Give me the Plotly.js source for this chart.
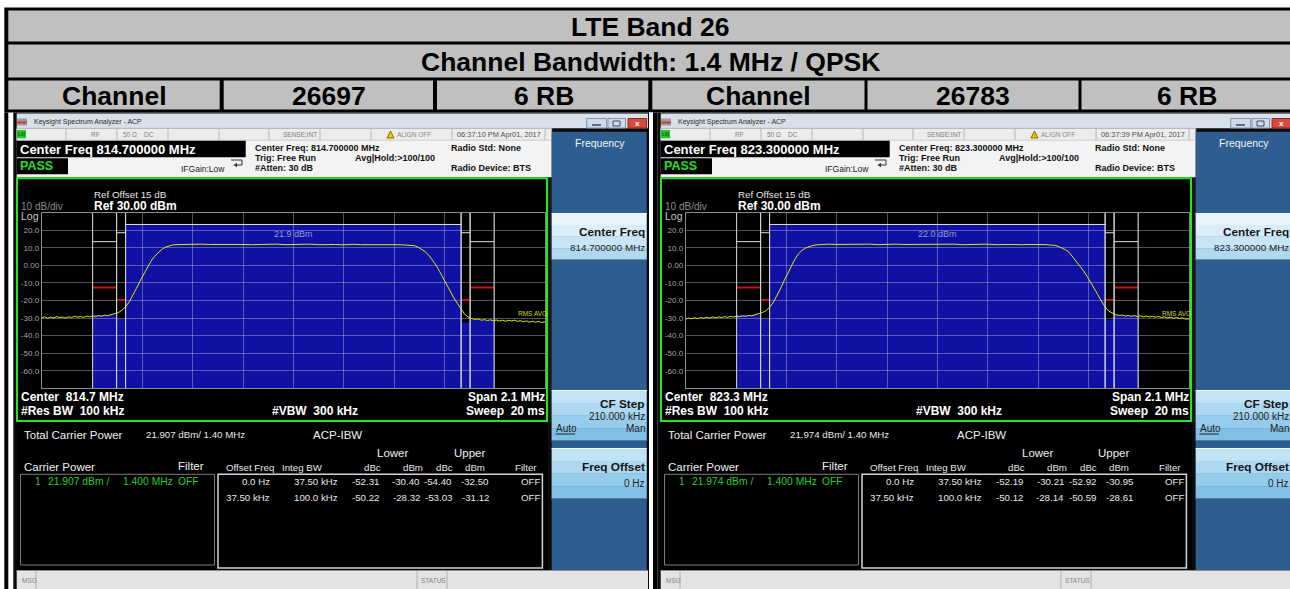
<!DOCTYPE html>
<html><head><meta charset="utf-8">
<script src="https://cdn.plot.ly/plotly-3.0.1.min.js"></script>
<style>html,body{margin:0;padding:0;background:#fff;overflow:hidden}#chart{width:1290px;height:589px}</style>
</head><body><div id="chart"></div>
<script>
// ---------------- data ----------------
const bandTitle = 'LTE Band 26';
const bwTitle = 'Channel Bandwidth: 1.4 MHz / QPSK';
const channels = ['26697', '26783'];
const rbLabels = ['6 RB', '6 RB'];
const centerMHz = [814.7, 823.3];
const spanMHz = 2.1;
const carrierBwMHz = 1.4;
const offsetFreqMHz = [0, 0.0375];
const integBwMHz = [0.0375, 0.1];
const offsetFreqText = ['0.0 Hz', '37.50 kHz'];
const integBwText = ['37.50 kHz', '100.0 kHz'];
const carrierPower = [21.907, 21.974];
const carrierLabel = ['21.9 dBm', '22.0 dBm'];
const timestamps = ['06:37:10 PM Apr01, 2017', '06:37:39 PM Apr01, 2017'];
const lowerDbc1 = [-52.31, -50.22], lowerDbm1 = [-30.40, -28.32];
const upperDbc1 = [-54.40, -53.03], upperDbm1 = [-32.50, -31.12];
const lowerDbc2 = [-52.19, -50.12], lowerDbm2 = [-30.21, -28.14];
const upperDbc2 = [-52.92, -50.59], upperDbm2 = [-30.95, -28.61];
const carrierBarTop = [23.3, 23.3];
const bwMarkerLevel = [18.6, 13.5];
const limitLevel = [-19.7, -12.6];
const yTicks = [20, 10, 0, -10, -20, -30, -40, -50, -60];
const yTickText = ['20.0', '10.0', '0.00', '-10.0', '-20.0', '-30.0', '-40.0', '-50.0', '-60.0'];
// trace: [offset from center MHz, level dBm]
const trace1 = [[-1.05,-29.9],[-1.0375,-29.3],[-1.025,-30.1],[-1.0125,-29.5],[-1.0,-29.9],[-0.9875,-29.2],[-0.975,-29.7],[-0.9625,-29.4],
 [-0.95,-30.0],[-0.9375,-29.3],[-0.925,-29.6],[-0.9125,-29.0],[-0.9,-29.5],[-0.8875,-29.1],[-0.875,-29.6],[-0.8625,-28.9],[-0.85,-29.3],
 [-0.8375,-28.8],[-0.825,-29.1],[-0.8125,-28.6],[-0.8,-28.9],[-0.7875,-28.4],[-0.775,-28.6],
 [-0.76,-28.0],[-0.745,-27.6],[-0.73,-26.9],[-0.715,-25.5],[-0.70,-23.6],[-0.685,-20.8],[-0.67,-17.3],[-0.655,-13.2],[-0.64,-9.0],[-0.625,-5.0],
 [-0.61,-1.2],[-0.595,2.2],[-0.58,5.0],[-0.565,7.3],[-0.55,9.0],[-0.535,10.3],[-0.52,11.1],[-0.505,11.6],[-0.49,11.8],
 [-0.455,12.0],[-0.42,11.8],[-0.385,12.1],[-0.35,11.9],[-0.315,12.0],[-0.28,11.8],[-0.245,12.1],[-0.21,11.9],[-0.175,11.8],[-0.14,12.0],
 [-0.105,11.9],[-0.07,12.1],[-0.035,11.8],[0,12.0],[0.035,11.9],[0.07,12.1],[0.105,11.8],[0.14,12.0],[0.175,11.9],[0.21,11.7],
 [0.245,12.0],[0.28,11.8],[0.315,11.9],[0.35,11.7],[0.385,11.9],[0.42,11.8],[0.455,11.7],[0.49,11.6],
 [0.505,11.2],[0.52,10.4],[0.535,9.3],[0.55,7.8],[0.565,5.8],[0.58,3.3],[0.595,0.2],[0.61,-3.4],[0.625,-7.3],[0.64,-11.3],
 [0.655,-15.2],[0.67,-18.6],[0.685,-21.8],[0.70,-25.0],[0.715,-27.8],[0.73,-29.5],[0.745,-30.4],[0.76,-30.8],
 [0.7725,-30.6],[0.785,-31.2],[0.7975,-30.9],[0.81,-31.4],[0.8225,-31.0],[0.835,-31.5],[0.8475,-31.1],[0.86,-31.7],[0.8725,-31.2],
 [0.885,-31.8],[0.8975,-31.3],[0.91,-31.6],[0.9225,-31.2],[0.935,-31.9],[0.9475,-31.5],[0.96,-32.1],[0.9725,-31.6],[0.985,-32.3],
 [0.9975,-31.8],[1.01,-32.4],[1.0225,-31.9],[1.035,-32.5],[1.05,-32.2]];
const trace2 = [[-1.05,-30.6],[-1.0375,-30.0],[-1.025,-30.4],[-1.0125,-29.8],[-1.0,-30.3],[-0.9875,-29.7],[-0.975,-30.1],[-0.9625,-29.6],
 [-0.95,-30.0],[-0.9375,-29.4],[-0.925,-29.8],[-0.9125,-29.3],[-0.9,-29.7],[-0.8875,-29.2],[-0.875,-29.6],[-0.8625,-29.0],[-0.85,-29.4],
 [-0.8375,-28.9],[-0.825,-29.2],[-0.8125,-28.7],[-0.8,-29.0],[-0.7875,-28.5],[-0.775,-28.7],
 [-0.76,-28.1],[-0.745,-27.7],[-0.73,-26.9],[-0.715,-25.8],[-0.70,-23.9],[-0.685,-21.2],[-0.67,-17.5],[-0.655,-13.4],[-0.64,-8.9],[-0.625,-4.6],
 [-0.61,-0.4],[-0.595,3.4],[-0.58,6.5],[-0.565,8.5],[-0.55,9.9],[-0.535,10.8],[-0.52,11.3],[-0.505,11.7],[-0.49,11.9],
 [-0.455,12.1],[-0.42,11.9],[-0.385,12.0],[-0.35,12.2],[-0.315,11.9],[-0.28,12.1],[-0.245,11.8],[-0.21,12.0],[-0.175,12.1],[-0.14,11.9],
 [-0.105,12.0],[-0.07,11.8],[-0.035,12.1],[0,11.9],[0.035,12.0],[0.07,12.1],[0.105,11.8],[0.14,12.0],[0.175,11.9],[0.21,12.1],
 [0.245,11.8],[0.28,12.0],[0.315,11.9],[0.35,11.8],[0.385,12.0],[0.42,11.9],[0.455,11.8],[0.49,11.4],
 [0.505,10.8],[0.52,10.0],[0.535,8.9],[0.55,7.4],[0.565,4.9],[0.58,2.3],[0.595,-0.4],[0.61,-3.1],[0.625,-6.3],[0.64,-9.6],
 [0.655,-13.3],[0.67,-16.8],[0.685,-20.4],[0.70,-23.7],[0.715,-26.0],[0.73,-27.3],[0.745,-28.2],[0.76,-28.5],
 [0.7725,-28.3],[0.785,-28.9],[0.7975,-28.5],[0.81,-29.0],[0.8225,-28.6],[0.835,-29.1],[0.8475,-28.7],[0.86,-29.3],[0.8725,-28.9],
 [0.885,-29.4],[0.8975,-29.0],[0.91,-29.5],[0.9225,-29.1],[0.935,-29.7],[0.9475,-29.3],[0.96,-29.9],[0.9725,-29.5],[0.985,-30.1],
 [0.9975,-29.7],[1.01,-30.3],[1.0225,-29.9],[1.035,-30.6],[1.05,-30.4]];

// ---------------- helpers ----------------
const W = 1290, H = 589;
const F = 'Liberation Sans, Arial, Helvetica, sans-serif';
const shapes = [], annos = [];
const X = v => v / W, Y = v => 1 - v / H;
function R(x0, y0, x1, y1, fill, lc, lw) {
  shapes.push({type:'rect', xref:'paper', yref:'paper', x0:X(x0), x1:X(x1), y0:Y(y1), y1:Y(y0),
    fillcolor: fill || 'rgba(0,0,0,0)', line:{color: lc || 'rgba(0,0,0,0)', width: lw || 0}, layer:'below'});
}
function L(x0, y0, x1, y1, c, w) {
  shapes.push({type:'line', xref:'paper', yref:'paper', x0:X(x0), x1:X(x1), y0:Y(y0), y1:Y(y1),
    line:{color:c, width:w || 1}, layer:'below'});
}
function P(pts, fill, lc, close) {
  let d = pts.map((p, i) => (i ? 'L' : 'M') + X(p[0]).toFixed(5) + ',' + Y(p[1]).toFixed(5)).join(' ');
  if (close !== false) d += ' Z';
  shapes.push({type:'path', xref:'paper', yref:'paper', path:d, fillcolor: fill || 'rgba(0,0,0,0)',
    line:{color: lc || 'rgba(0,0,0,0)', width: lc ? 1 : 0}, layer:'below'});
}
function T(x, y, s, size, color, anchor, bold) {
  annos.push({xref:'paper', yref:'paper', x:X(x), y:Y(y), text: bold ? '<b>' + s + '</b>' : s,
    showarrow:false, xanchor: anchor || 'left', yanchor:'middle', borderpad:0,
    font:{family:F, size:size, color:color}});
}
const sp2 = '\u00a0\u00a0';

// ---------------- header table ----------------
R(4.3, 7.5, 1300, 112.5, '#000');
R(8.3, 10.5, 1300, 41.5, '#c0c0c0');
R(8.3, 44.5, 1300, 77.5, '#c0c0c0');
const cellEdges = [[8.3,219.7],[223.7,433],[437,648.3],[652.3,864.5],[867.5,1078.5],[1081.5,1300]];
cellEdges.forEach(c => R(c[0], 80.5, c[1], 109.5, '#c0c0c0'));
T(650, 26.5, bandTitle, 26.5, '#000', 'center', true);
T(650, 61.5, bwTitle, 26.5, '#000', 'center', true);
const row3 = ['Channel', channels[0], rbLabels[0], 'Channel', channels[1], rbLabels[1]];
const row3Centers = [114, 328.5, 543.5, 758, 973, 1187];
row3.forEach((s, i) => T(row3Centers[i], 95.5, s, 26.5, '#000', 'center', true));
// left outer border below the header
R(4.3, 112.5, 8.3, 589, '#000');

// ---------------- screens ----------------
const layoutAxes = {};
const traces = [];
const gridC = 'rgba(190,190,225,0.42)';

function screen(k) {
  const o = k * 644;
  const c = centerMHz[k];
  const xr = k ? 'x2' : 'x', yr = k ? 'y2' : 'y';
  const lDbc = k ? lowerDbc2 : lowerDbc1, lDbm = k ? lowerDbm2 : lowerDbm1;
  const uDbc = k ? upperDbc2 : upperDbc1, uDbm = k ? upperDbm2 : upperDbm1;
  const tr = k ? trace2 : trace1;
  const fStr = c.toFixed(6) + ' MHz';

  // frame
  R(13.3 + o, 112.5, 649 + o + (k ? 20 : 0), 589, '#0b0b0b');
  // title bar
  R(16.7 + o, 113.5, 648 + o, 128.3, '#d8e0e9');
  R(17 + o, 118.5, 27 + o, 125.5, '#9c9c9c');
  R(17 + o, 121.5, 27 + o, 123.5, '#d23a3a');
  T(33 + o, 121.8, 'Keysight Spectrum Analyzer - ACP', 7, '#2b2b2b');
  // window buttons
  R(586.7 + o, 118.5, 606.7 + o, 128, '#cfdbe8', '#7f93aa', 1);
  L(592 + o, 125, 601 + o, 125, '#3a4a5c', 1.5);
  R(608 + o, 118.5, 625.5 + o, 128, '#cfdbe8', '#7f93aa', 1);
  R(613 + o, 121, 620 + o, 126, null, '#3a4a5c', 1);
  R(628 + o, 118.5, 646.7 + o, 128, '#d64b3d', '#8a2a20', 1);
  T(637.4 + o, 123.2, 'x', 8, '#fff', 'center', true);
  // status row
  R(16.7 + o, 128.3, 551.7 + o, 140.3, '#ececec', '#b8b8b8', 0.8);
  R(17 + o, 130, 26 + o, 138.3, '#20c820');
  T(21.5 + o, 134.2, 'LXI', 4.5, '#063', 'center', true);
  [66, 117, 168, 219, 269, 320, 371, 452, 545].forEach(v => L(v + o, 128.5, v + o, 140, '#b5b5b5', 1));
  T(95 + o, 134.3, 'RF', 6.5, '#808080', 'center');
  T(122 + o, 134.3, '50 \u03a9', 6.5, '#808080');
  T(143 + o, 134.3, 'DC', 6.5, '#808080');
  T(318 + o, 134.3, 'SENSE:INT', 6.5, '#808080', 'right');
  P([[387 + o, 138], [390.5 + o, 131], [394 + o, 138]], '#f2c200', '#8a6d00');
  T(396 + o, 134.3, 'ALIGN OFF', 6.5, '#8a8a8a');
  T(455.5 + o, 134.3, timestamps[k], 7.4, '#505050');
  // info area
  R(16.7 + o, 140.3, 551.7 + o, 177.5, '#f3f3f3');
  R(16.5 + o, 140.7, 245.7 + o, 157.3, '#000');
  T(18.5 + o, 149.2, 'Center Freq ' + fStr, 13, '#fff', 'left', true);
  R(16.5 + o, 158.3, 68 + o, 174.3, '#000');
  T(18.8 + o, 166.5, 'PASS', 12.5, '#22e022', 'left', true);
  T(180 + o, 168.5, 'IFGain:Low', 8.5, '#222');
  P([[231 + o, 160], [242 + o, 160], [242 + o, 165], [237 + o, 165]], null, '#333', false);
  P([[237 + o, 162.8], [237 + o, 167.2], [233.5 + o, 165]], '#333');
  T(253.5 + o, 148.4, 'Center Freq: ' + fStr, 9, '#111', 'left', true);
  T(253.5 + o, 157.9, 'Trig: Free Run', 9, '#111', 'left', true);
  T(253.5 + o, 167.8, '#Atten: 30 dB', 9, '#111', 'left', true);
  T(353.7 + o, 157.9, 'Avg|Hold:>100/100', 9, '#111', 'left', true);
  T(450 + o, 148.4, 'Radio Std: None', 9, '#111', 'left', true);
  T(450 + o, 167.8, 'Radio Device: BTS', 9, '#111', 'left', true);

  // graph region
  R(16.7 + o, 177.5, 551.7 + o, 423, '#1a1a1a');
  R(17 + o, 178.3, 547 + o, 421, '#000', '#22e622', 2);
  T(92.5 + o, 194.3, 'Ref Offset 15 dB', 9.8, '#e6e6e6');
  T(92.5 + o, 205.7, 'Ref 30.00 dBm', 12, '#fff', 'left', true);
  T(20 + o, 206.7, '10 dB/div', 10, '#8c8c8c');
  T(20 + o, 216, 'Log', 10.5, '#c8c8c8');
  T(19.5 + o, 397, 'Center' + sp2 + c.toFixed(1) + ' MHz', 12, '#fff', 'left', true);
  T(19.5 + o, 411, '#Res BW' + sp2 + '100 kHz', 12, '#fff', 'left', true);
  T(315 + o, 411, '#VBW' + sp2 + '300 kHz', 12, '#fff', 'center', true);
  T(545.5 + o, 397, 'Span ' + spanMHz.toFixed(1) + ' MHz', 12, '#fff', 'right', true);
  T(545.5 + o, 411, 'Sweep' + sp2 + '20 ms', 12, '#fff', 'right', true);

  // axes
  const xa = {domain:[X(41.7 + o), X(545 + o)], range:[c - spanMHz / 2, c + spanMHz / 2],
    tick0: c - spanMHz / 2, dtick: spanMHz / 10, showgrid:true, gridcolor:gridC, gridwidth:1,
    zeroline:false, showticklabels:false, ticks:'', showline:true, mirror:true,
    linecolor:'#8c8c8c', linewidth:1, fixedrange:true, anchor: yr};
  const ya = {domain:[Y(388.3), Y(212.7)], range:[-70, 30], tickvals:yTicks, ticktext:yTickText,
    tickfont:{family:F, size:8, color:'#a4a4a4'}, ticks:'', showgrid:true, gridcolor:gridC, gridwidth:1,
    zeroline:false, showline:true, mirror:true, linecolor:'#8c8c8c', linewidth:1, fixedrange:true, anchor: xr};
  layoutAxes[k ? 'xaxis2' : 'xaxis'] = xa;
  layoutAxes[k ? 'yaxis2' : 'yaxis'] = ya;

  const half = carrierBwMHz / 2;
  const blue = '#1010a2';
  shapes.push({type:'rect', xref:xr, yref:yr, x0:c - half, x1:c + half, y0:-70, y1:carrierBarTop[k],
    fillcolor:blue, line:{width:0}, layer:'below'});
  const edges = [half];
  for (let i = 0; i < 2; i++) {
    const s = half + offsetFreqMHz[i], e = s + integBwMHz[i];
    edges.push(s, e);
    [[-1, lDbm[i]], [1, uDbm[i]]].forEach(([sd, v]) => {
      shapes.push({type:'rect', xref:xr, yref:yr, x0:c + sd * s, x1:c + sd * e, y0:-70, y1:v,
        fillcolor:blue, line:{width:0}, layer:'below'});
      shapes.push({type:'line', xref:xr, yref:yr, x0:c + sd * s, x1:c + sd * e, y0:limitLevel[i], y1:limitLevel[i],
        line:{color:'#c41616', width:2}, layer:'above'});
      shapes.push({type:'line', xref:xr, yref:yr, x0:c + sd * s, x1:c + sd * e, y0:bwMarkerLevel[i], y1:bwMarkerLevel[i],
        line:{color:'#e0e0e0', width:1}, layer:'above'});
    });
  }
  edges.forEach(e => [-1, 1].forEach(sd => shapes.push({type:'line', xref:xr, yref:yr, x0:c + sd * e, x1:c + sd * e,
    y0:-70, y1:30, line:{color:'#d4d4d4', width:1}, layer:'above'})));
  shapes.push({type:'line', xref:xr, yref:yr, x0:c - half, x1:c + half, y0:carrierBarTop[k], y1:carrierBarTop[k],
    line:{color:'#e0e0e0', width:1}, layer:'above'});
  annos.push({xref:xr, yref:'paper', x:c, y:Y(234), text:carrierLabel[k], showarrow:false, xanchor:'center',
    yanchor:'middle', font:{family:F, size:9, color:'#8e9ad8'}});
  T(548 + o, 313, 'RMS AVG', 6.5, '#d4d400', 'right');

  traces.push({type:'scatter', mode:'lines', xaxis:xr, yaxis:yr,
    x: tr.map(p => c + p[0]), y: tr.map(p => p[1]),
    line:{color:'#e6e600', width:1}, hoverinfo:'skip'});

  // bottom panel
  R(16.7 + o, 422, 548 + o, 570, '#000');
  T(23 + o, 435, 'Total Carrier Power', 11.5, '#f0f0f0');
  T(145 + o, 434.3, carrierPower[k].toFixed(3) + ' dBm/ 1.40 MHz', 9.7, '#e8e8e8');
  T(311.5 + o, 435, 'ACP-IBW', 11.5, '#f0f0f0');
  T(393 + o, 452.5, 'Lower', 11.5, '#f0f0f0', 'center');
  T(469 + o, 452.5, 'Upper', 11.5, '#f0f0f0', 'center');
  T(23 + o, 466.5, 'Carrier Power', 11.5, '#f0f0f0');
  T(205 + o, 466, 'Filter', 11.5, '#f0f0f0', 'right');
  const hdr = [['Offset Freq', 275], ['Integ BW', 324], ['dBc', 382], ['dBm', 424], ['dBc', 454], ['dBm', 486], ['Filter', 538]];
  hdr.forEach(h => T(h[1] + o, 467, h[0], 9.7, '#e8e8e8', 'right'));
  R(20.5 + o, 474.3, 214.5 + o, 565, null, '#7c7c7c', 1);
  R(218 + o, 474.3, 542.4 + o, 568, null, '#d4d4d4', 1.5);
  const g = '#22d022';
  T(34 + o, 482, '1', 10, g);
  T(47 + o, 482, carrierPower[k].toFixed(3) + ' dBm /', 10.3, g);
  T(122 + o, 482, carrierBwMHz.toFixed(3) + ' MHz', 10.3, g);
  T(177 + o, 482, 'OFF', 10.3, g);
  for (let i = 0; i < 2; i++) {
    const yy = 482 + i * 15;
    const cw = '#e8e8e8';
    T(271 + o, yy, offsetFreqText[i], 9.7, cw, 'right');
    T(339 + o, yy, integBwText[i], 9.7, cw, 'right');
    T(380 + o, yy, lDbc[i].toFixed(2), 9.7, cw, 'right');
    T(420.5 + o, yy, lDbm[i].toFixed(2), 9.7, cw, 'right');
    T(453 + o, yy, uDbc[i].toFixed(2), 9.7, cw, 'right');
    T(490 + o, yy, uDbm[i].toFixed(2), 9.7, cw, 'right');
    T(520 + o, yy, 'OFF', 9.7, cw);
  }

  // right soft-key panel
  R(551.7 + o, 131.7, 646.7 + o, 571.7, '#2e5d8f');
  T(600 + o, 143.3, 'Frequency', 10.5, '#eef4fa', 'center');
  function btn(y0, y1, cols) {
    const n = cols.length, h = (y1 - y0) / n;
    cols.forEach((col, i) => R(551.7 + o, y0 + i * h, 646.7 + o, y0 + (i + 1) * h + 0.3, col));
    L(551.7 + o, y0 + 0.5, 646.7 + o, y0 + 0.5, '#f4fbff', 1);
    L(551.7 + o, y1, 646.7 + o, y1, '#1d3f66', 1.2);
  }
  btn(213, 260, ['#e8f4fb', '#d9eef9', '#c7e5f5', '#b0d9f0']);
  btn(390, 441, ['#c2e3f5', '#acd8f1', '#96cceb', '#80c0e5']);
  btn(448, 499, ['#c2e3f5', '#acd8f1', '#96cceb', '#80c0e5']);
  T(645.5 + o, 231.7, 'Center Freq', 11.8, '#151515', 'right', true);
  T(645.5 + o, 247.7, fStr, 9.9, '#222', 'right');
  T(645.5 + o, 404, 'CF Step', 11.8, '#151515', 'right', true);
  T(645.5 + o, 416.7, '210.000 kHz', 10, '#222', 'right');
  T(555 + o, 428.5, 'Auto', 10, '#222');
  L(555.5 + o, 434, 575 + o, 434, '#222', 1);
  T(645.5 + o, 428.5, 'Man', 10, '#222', 'right');
  T(645.5 + o, 466.7, 'Freq Offset', 11.8, '#151515', 'right', true);
  T(645.5 + o, 483.3, '0 Hz', 10, '#222', 'right');

  // status bar
  R(16.7 + o, 570, 648 + o, 589, '#e3e3e3');
  L(16.7 + o, 570.5, 648 + o, 570.5, '#8c8c8c', 1);
  L(36 + o, 571, 36 + o, 589, '#b0b0b0', 1);
  L(417 + o, 571, 417 + o, 589, '#b0b0b0', 1);
  L(447 + o, 571, 447 + o, 589, '#b0b0b0', 1);
  T(20.5 + o, 580.5, 'MSG', 6.5, '#858585');
  T(419.5 + o, 580.5, 'STATUS', 6.5, '#858585');
}
screen(0);
screen(1);
// white gap and black divider between screens
R(649, 112.5, 653, 589, '#fff');
R(653, 112.5, 657.3, 589, '#000');

const layout = Object.assign({
  width: W, height: H, margin:{l:0, r:0, t:0, b:0, pad:0},
  paper_bgcolor:'#ffffff', plot_bgcolor:'#000000', showlegend:false,
  shapes: shapes, annotations: annos, font:{family:F}
}, layoutAxes);
Plotly.newPlot('chart', traces, layout, {displayModeBar:false, staticPlot:true});
</script>
</body></html>
